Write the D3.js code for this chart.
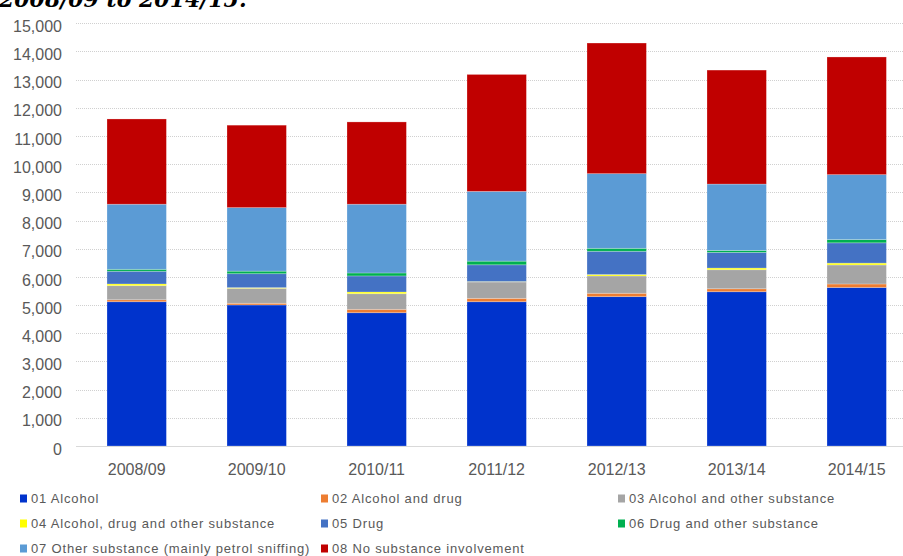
<!DOCTYPE html>
<html>
<head>
<meta charset="utf-8">
<script src="https://cdn.jsdelivr.net/npm/d3@7/dist/d3.min.js"></script>
<style>
  html, body { margin: 0; padding: 0; background: #fff; }
  svg { display: block; }
</style>
</head>
<body>
<svg id="chart" width="903" height="556"></svg>
<script>
// ---- Data ----
const years = ["2008/09", "2009/10", "2010/11", "2011/12", "2012/13", "2013/14", "2014/15"];
const alcohol          = [5120, 5005, 4730, 5120, 5300, 5475, 5625];
const alcoholDrug      = [70, 60, 120, 120, 120, 105, 125];
const alcoholOther     = [500, 530, 555, 580, 615, 675, 675];
const alcoholDrugOther = [60, 25, 60, 15, 50, 60, 65];
const drug             = [450, 495, 570, 595, 825, 555, 720];
const drugOther        = [70, 90, 105, 130, 105, 70, 115];
const otherSubstance   = [2310, 2255, 2440, 2475, 2650, 2355, 2305];
const noSubstance      = [3025, 2925, 2920, 4150, 4635, 4045, 4175];

const seriesLabels = [
  "01 Alcohol",
  "02 Alcohol and drug",
  "03 Alcohol and other substance",
  "04 Alcohol, drug and other substance",
  "05 Drug",
  "06 Drug and other substance",
  "07 Other substance (mainly petrol sniffing)",
  "08 No substance involvement"
];
const seriesValues = [alcohol, alcoholDrug, alcoholOther, alcoholDrugOther, drug, drugOther, otherSubstance, noSubstance];
const seriesColors = ["#0033CC", "#ED7D31", "#A5A5A5", "#FFFF00", "#4472C4", "#00B050", "#5B9BD5", "#C00000"];
const yTicks = [0, 1000, 2000, 3000, 4000, 5000, 6000, 7000, 8000, 9000, 10000, 11000, 12000, 13000, 14000, 15000];
const titleText = "2008/09 to 2014/15.";

// ---- Build table ----
const keys = seriesLabels;
const table = years.map((yr, i) => {
  const row = { year: yr };
  keys.forEach((k, j) => { row[k] = seriesValues[j][i]; });
  return row;
});

const svg = d3.select("#chart");
const W = 903;

const x = d3.scaleBand().domain(years).range([76.7, 916.7]).paddingInner(0.505).paddingOuter(0.2525);
const y = d3.scaleLinear().domain([0, 15000]).range([446, 23.3]);
const color = d3.scaleOrdinal().domain(keys).range(seriesColors);

// Title (cut off at the top, as in the source)
svg.append("text")
  .attr("x", -1).attr("y", 7)
  .attr("font-family", "DejaVu Serif, Liberation Serif, serif")
  .attr("font-style", "italic").attr("font-weight", "bold")
  .attr("font-size", 22)
  .attr("fill", "#000")
  .text(titleText);

// Gridlines
svg.append("g").selectAll("line")
  .data(yTicks.filter(d => d > 0))
  .join("line")
  .attr("x1", 76).attr("x2", W)
  .attr("y1", d => Math.round(y(d)) + 0.5).attr("y2", d => Math.round(y(d)) + 0.5)
  .attr("stroke", "#D0D0D0").attr("stroke-width", 1)
  .attr("stroke-dasharray", "1,1");

// Stack bars
const stacked = d3.stack().keys(keys)(table);
svg.append("g").selectAll("g")
  .data(stacked)
  .join("g")
  .attr("fill", d => color(d.key))
  .selectAll("rect")
  .data(d => d)
  .join("rect")
  .attr("x", d => x(d.data.year))
  .attr("width", x.bandwidth())
  .attr("y", d => y(d[1]))
  .attr("height", d => y(d[0]) - y(d[1]))
  .attr("stroke", "#fff").attr("stroke-opacity", 0.3).attr("stroke-width", 0.8);

// Zero axis line
svg.append("line")
  .attr("x1", 76).attr("x2", W)
  .attr("y1", y(0) + 0.5).attr("y2", y(0) + 0.5)
  .attr("stroke", "#D9D9D9").attr("stroke-width", 1);

// Y axis labels
const yAxis = d3.axisLeft(y).tickValues(yTicks).tickFormat(d3.format(",")).tickSize(0).tickPadding(0);
const gy = svg.append("g").attr("transform", "translate(62,0)").call(yAxis);
gy.select(".domain").remove();
gy.selectAll("text")
  .attr("font-family", "Liberation Sans, Arial, sans-serif")
  .attr("font-size", 16).attr("fill", "#595959")
  .attr("dy", "0.38em").attr("y", 2);

// X axis labels
const xAxis = d3.axisBottom(x).tickSize(0).tickPadding(0);
const gx = svg.append("g").attr("transform", "translate(0,475)").call(xAxis);
gx.select(".domain").remove();
gx.selectAll("text")
  .attr("font-family", "Liberation Sans, Arial, sans-serif")
  .attr("font-size", 16).attr("fill", "#595959")
  .attr("dy", 0).attr("y", 0);

// Legend
const colX = [20, 321, 618];
const rowY = [498.5, 523.5, 548.5];
const legend = svg.append("g").selectAll("g")
  .data(keys)
  .join("g")
  .attr("transform", (d, i) => `translate(${colX[i % 3]},${rowY[Math.floor(i / 3)]})`);
legend.append("rect")
  .attr("x", 0).attr("y", -4).attr("width", 7).attr("height", 8)
  .attr("fill", d => color(d));
legend.append("text")
  .attr("x", 11).attr("y", 0).attr("dy", "0.35em")
  .attr("font-family", "Liberation Sans, Arial, sans-serif")
  .attr("font-size", 13).attr("letter-spacing", "0.82px")
  .attr("fill", "#595959")
  .text(d => d);
</script>
</body>
</html>
